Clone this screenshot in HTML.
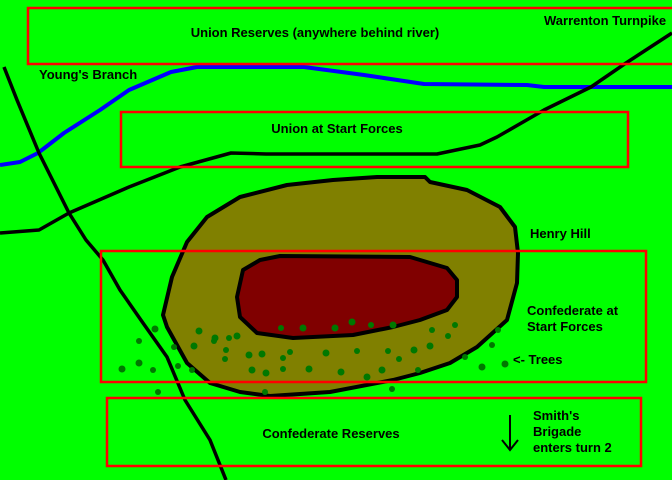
<!DOCTYPE html>
<html><head><style>
html,body{margin:0;padding:0;background:#00ff00;}
svg{display:block}
text{font-family:"Liberation Sans",sans-serif;font-weight:bold;font-size:13px;fill:#000}
</style></head><body>
<svg width="672" height="480" viewBox="0 0 672 480" xmlns="http://www.w3.org/2000/svg">
<rect width="672" height="480" fill="#00ff00"/>
<path d="M167,327 L163,315 L172,277 L187,242 L207,217 L240,197 L287,185 L333,180 L377,177 L425,177 L430,182 L467,190 L500,207 L515,227 L518,253 L517,283 L507,320 L477,347 L450,363 L420,373 L393,380 L330,392 L270,396 L240,392 L210,383 L187,363 Z" fill="#808000" stroke="#000" stroke-width="4" stroke-linejoin="round"/>
<path d="M240,317 L237,297 L243,270 L260,260 L280,256 L410,257 L447,268 L457,280 L457,297 L447,310 L420,320 L393,327 L353,335 L293,338 L257,333 Z" fill="#800000" stroke="#000" stroke-width="4" stroke-linejoin="round"/>
<g fill="#007800">
<circle cx="155" cy="329" r="3.5"/><circle cx="139" cy="341" r="3"/><circle cx="174" cy="347" r="3"/><circle cx="122" cy="369" r="3.5"/><circle cx="139" cy="363" r="3.5"/><circle cx="153" cy="370" r="3"/><circle cx="178" cy="366" r="3"/><circle cx="192" cy="370" r="3"/><circle cx="158" cy="392" r="3"/>
<circle cx="199" cy="331" r="3.5"/><circle cx="215" cy="338" r="3.5"/><circle cx="229" cy="338" r="3"/><circle cx="237" cy="336" r="3.5"/><circle cx="194" cy="346" r="3.5"/><circle cx="214" cy="341" r="3"/><circle cx="226" cy="350" r="3"/><circle cx="249" cy="355" r="3.5"/><circle cx="262" cy="354" r="3.5"/><circle cx="225" cy="359" r="3"/><circle cx="283" cy="358" r="3"/><circle cx="252" cy="370" r="3.5"/><circle cx="266" cy="373" r="3.5"/><circle cx="283" cy="369" r="3"/><circle cx="309" cy="369" r="3.5"/><circle cx="341" cy="372" r="3.5"/><circle cx="367" cy="377" r="3.5"/><circle cx="382" cy="370" r="3.5"/><circle cx="265" cy="392" r="3"/><circle cx="392" cy="389" r="3"/>
<circle cx="281" cy="328" r="3"/><circle cx="303" cy="328" r="3.5"/><circle cx="335" cy="328" r="3.5"/><circle cx="352" cy="322" r="3.5"/><circle cx="371" cy="325" r="3"/><circle cx="393" cy="325" r="3.5"/>
<circle cx="290" cy="352" r="3"/><circle cx="326" cy="353" r="3.5"/><circle cx="357" cy="351" r="3"/><circle cx="388" cy="351" r="3"/><circle cx="399" cy="359" r="3"/><circle cx="414" cy="350" r="3.5"/><circle cx="430" cy="346" r="3.5"/><circle cx="448" cy="336" r="3"/><circle cx="432" cy="330" r="3"/><circle cx="455" cy="325" r="3"/><circle cx="418" cy="370" r="3"/><circle cx="465" cy="357" r="3"/><circle cx="482" cy="367" r="3.5"/><circle cx="492" cy="345" r="3"/><circle cx="498" cy="330" r="3"/><circle cx="505" cy="364" r="3.5"/>
</g>
<polyline points="0,165 20,162 38,153 64,133 100,110 129,90 171,72 197,67 304,67 364,75 424,84 527,85 544,87 672,87" fill="none" stroke="#0000ff" stroke-width="4" stroke-linejoin="round"/>
<polyline points="0,233 39,230 69,213 129,187 180,167 231,153 266,154 437,154 480,145 497,137 544,110 591,87 626,63 672,33" fill="none" stroke="#000" stroke-width="3.5" stroke-linejoin="round"/>
<polyline points="4,67 17,100 39,153 69,213 86,240 103,260 120,290 143,323 167,357 185,400 210,440 226,480" fill="none" stroke="#000" stroke-width="3.5" stroke-linejoin="round"/>
<g fill="none" stroke="#ff0000" stroke-width="2.5">
<rect x="28" y="8" width="650" height="56"/>
<rect x="121" y="112" width="507" height="55"/>
<rect x="101" y="251" width="545" height="131"/>
<rect x="107" y="398" width="534" height="68"/>
</g>
<text x="315" y="37" text-anchor="middle">Union Reserves (anywhere behind river)</text>
<text x="544" y="25">Warrenton Turnpike</text>
<text x="39" y="79">Young's Branch</text>
<text x="337" y="133" text-anchor="middle">Union at Start Forces</text>
<text x="530" y="238">Henry Hill</text>
<text x="527" y="315">Confederate at</text>
<text x="527" y="331">Start Forces</text>
<text x="513" y="364">&lt;- Trees</text>
<text x="331" y="438" text-anchor="middle">Confederate Reserves</text>
<text x="533" y="420">Smith's</text>
<text x="533" y="436">Brigade</text>
<text x="533" y="452">enters turn 2</text>
<line x1="510" y1="415" x2="510" y2="449" stroke="#000" stroke-width="2"/>
<polyline points="502,440 510,450 518,440" fill="none" stroke="#000" stroke-width="2"/>
</svg>
</body></html>
